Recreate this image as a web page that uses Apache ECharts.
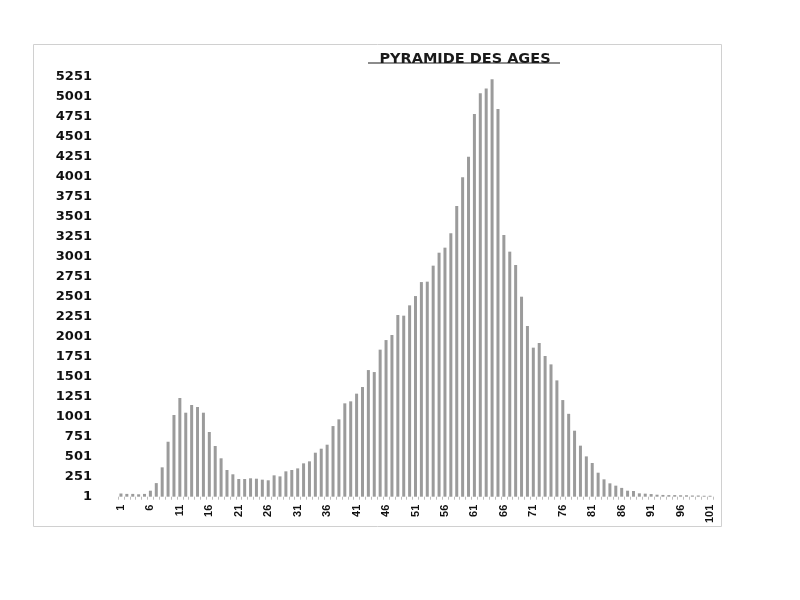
<!DOCTYPE html>
<html>
<head>
<meta charset="utf-8">
<script src="https://cdn.jsdelivr.net/npm/echarts@6/dist/echarts.min.js"></script>
<style>html,body{margin:0;padding:0;background:#fff}#c{width:800px;height:600px}</style>
</head>
<body>
<div id="c"></div>
<script>
const titleText = 'PYRAMIDE DES AGES';
const ages = [];
for (let i = 1; i <= 101; i++) ages.push(String(i));
const counts = [
  40, 35, 35, 30, 35, 75, 170, 367, 687, 1021,
  1234, 1050, 1146, 1121, 1050, 809, 634, 480, 334, 280,
  221, 221, 230, 225, 213, 205, 267, 254, 317, 334,
  354, 417, 442, 550, 600, 650, 883, 967, 1167, 1192,
  1288, 1371, 1583, 1558, 1838, 1958, 2021, 2271, 2263, 2392,
  2508, 2683, 2688, 2888, 3050, 3113, 3292, 3633, 3992, 4250,
  4783, 5042, 5104, 5217, 4846, 3271, 3063, 2896, 2500, 2134,
  1863, 1921, 1759, 1654, 1454, 1208, 1036, 825, 638, 504,
  421, 300, 217, 167, 138, 110, 75, 71, 42, 38,
  33, 25, 22, 20, 20, 18, 18, 15, 15, 12,
  12
];
const yMin = 0, yMax = 5250, yStep = 250, yLabelOffset = 1;

const chart = echarts.init(document.getElementById('c'), null, {renderer: 'canvas'});
chart.setOption({
  animation: false,
  backgroundColor: '#ffffff',
  title: {
    text: titleText,
    left: 460,
    top: 47,
    textAlign: 'center',
    textStyle: {fontFamily: 'DejaVu Sans', fontWeight: 'bold', fontSize: 14.5, color: '#1a1a1a'}
  },
  graphic: [
    {type: 'rect', shape: {x: 33.5, y: 44.5, width: 688, height: 482}, style: {fill: 'none', stroke: '#d0d0d0', lineWidth: 1}, z: -1},
    {type: 'line', shape: {x1: 368, y1: 63, x2: 560, y2: 63}, style: {stroke: '#1a1a1a', lineWidth: 1.2}}
  ],
  grid: {left: 118, right: 87, top: 76.7, bottom: 103.3, containLabel: false},
  xAxis: {
    type: 'category',
    data: ages,
    boundaryGap: true,
    axisLine: {show: false},
    axisTick: {show: true, length: 3, lineStyle: {color: '#bdbdbd'}, interval: 0},
    axisLabel: {
      interval: 4,
      rotate: 90,
      margin: 8,
      fontFamily: 'Liberation Sans Narrow, Liberation Sans',
      fontWeight: 'bold',
      fontSize: 11,
      color: '#111'
    }
  },
  yAxis: {
    type: 'value',
    min: yMin,
    max: yMax,
    interval: yStep,
    axisLine: {show: false},
    axisTick: {show: false},
    splitLine: {show: false},
    axisLabel: {
      formatter: v => String(v + yLabelOffset),
      margin: 26,
      fontFamily: 'DejaVu Sans',
      fontWeight: 'bold',
      fontSize: 13,
      color: '#111'
    }
  },
  series: [{
    type: 'bar',
    data: counts,
    barWidth: 3,
    itemStyle: {color: '#9b9b9b'}
  }]
});
</script>
</body>
</html>
